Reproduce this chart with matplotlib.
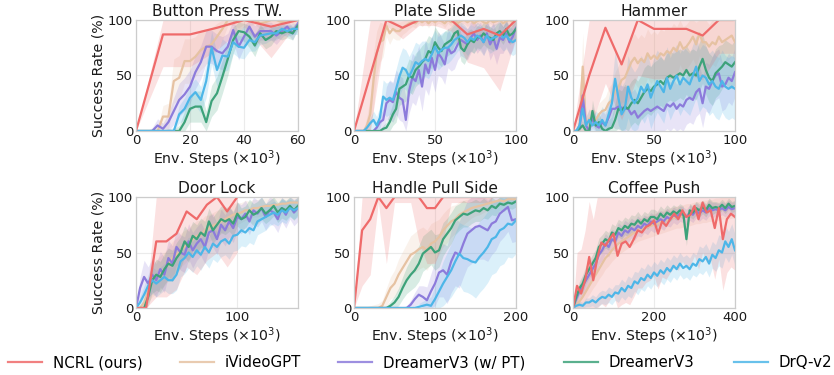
import matplotlib
matplotlib.use("Agg")
import matplotlib.pyplot as plt
import numpy as np
from matplotlib.lines import Line2D

# ---------------------------------------------------------------- data
methods = ["NCRL (ours)", "iVideoGPT", "DreamerV3 (w/ PT)", "DreamerV3", "DrQ-v2"]
colors = {
    "NCRL (ours)": "#EF6A6A",
    "iVideoGPT": "#E6C2A2",
    "DreamerV3 (w/ PT)": "#8C7BDB",
    "DreamerV3": "#3DA27A",
    "DrQ-v2": "#4DB6E8",
}

# Button Press TW. (x in 1e3 env steps)
bp_red_x = [0, 10, 20, 30, 40, 50, 60]
bp_x = [0, 2, 4, 6, 8, 10, 12, 14, 16, 18, 20, 22, 24, 26, 28, 30, 32, 34, 36, 38,
        40, 42, 44, 46, 48, 50, 52, 54, 56, 58, 60]
bp_red = [0, 87, 87, 93, 100, 94, 100]
bp_red_sd = [0, 29, 29, 20, 6, 28, 2]
bp_tan = [0, 0, 0, 0, 0, 13, 13, 45, 48, 63, 63, 67, 73, 76, 78, 85, 92, 100, 100, 98,
          100, 99, 100, 97, 98, 100, 100, 98, 100, 100, 100]
bp_tan_sd = [0, 0, 0, 0, 2, 10, 12, 20, 20, 20, 20, 18, 18, 16, 15, 12, 10, 5, 5, 5,
             4, 4, 4, 5, 5, 4, 3, 4, 3, 3, 2]
bp_pur = [0, 0, 0, 0, 5, 2, 8, 18, 28, 33, 40, 53, 62, 76, 76, 72, 70, 76, 91, 76,
          85, 94, 85, 90, 90, 90, 86, 90, 94, 88, 97]
bp_pur_sd = [0, 0, 0, 3, 6, 5, 8, 12, 15, 15, 15, 15, 15, 15, 15, 15, 15, 12, 10, 12,
             10, 8, 10, 8, 8, 8, 8, 6, 6, 6, 4]
bp_grn = [0, 0, 0, 0, 0, 0, 0, 0, 0, 8, 20, 22, 22, 8, 27, 34, 49, 65, 82, 90,
          89, 85, 77, 88, 82, 85, 90, 88, 90, 88, 95]
bp_grn_sd = [0, 0, 0, 0, 0, 0, 0, 2, 5, 10, 12, 14, 14, 10, 14, 15, 15, 15, 12, 8,
             8, 10, 10, 8, 8, 8, 6, 6, 6, 6, 4]
bp_blu = [0, 0, 0, 0, 0, 0, 0, 0, 15, 20, 30, 35, 28, 45, 75, 55, 68, 67, 80, 76,
          75, 82, 80, 86, 87, 88, 88, 92, 90, 92, 92]
bp_blu_sd = [0, 0, 0, 0, 0, 0, 2, 3, 8, 10, 12, 12, 12, 15, 15, 15, 15, 12, 10, 10,
             10, 10, 8, 8, 8, 6, 6, 5, 5, 5, 5]

# Plate Slide
ps_red_x = [0, 10, 20, 30, 40, 50, 60, 70, 80, 90, 100]
ps_x = [0, 2, 4, 6, 8, 10, 12, 14, 16, 18, 20, 22, 24, 26, 28, 30, 32, 34, 36, 38,
        40, 42, 44, 46, 48, 50, 52, 54, 56, 58, 60, 62, 64, 66, 68, 70, 72, 74, 76, 78,
        80, 82, 84, 86, 88, 90, 92, 94, 96, 98, 100]
ps_red = [0, 50, 100, 93, 100, 100, 100, 87, 92, 86, 100]
ps_red_sd = [0, 50, 5, 10, 5, 5, 10, 25, 35, 50, 15]
ps_tan = [0, 0, 0, 0, 5, 15, 45, 70, 80, 82, 95, 88, 92, 90, 90, 93, 95, 97, 98, 97,
          100, 98, 100, 97, 100, 98, 100, 99, 97, 100, 98, 100, 97, 99, 100, 98, 100, 97, 99, 100,
          98, 97, 100, 98, 99, 100, 97, 99, 100, 98, 100]
ps_tan_sd = [0, 0, 0, 2, 8, 15, 25, 20, 18, 15, 10, 10, 8, 8, 8, 6, 6, 5, 4, 4,
             3, 4, 3, 4, 3, 4, 3, 3, 4, 3, 4, 3, 4, 3, 3, 4, 3, 4, 3, 3,
             4, 4, 3, 4, 3, 3, 4, 3, 3, 4, 3]
ps_pur = [0, 0, 0, 0, 0, 0, 0, 3, 8, 10, 25, 28, 26, 35, 30, 28, 10, 36, 48, 45,
          55, 40, 60, 52, 66, 55, 70, 66, 60, 75, 70, 72, 78, 82, 80, 78, 84, 88, 82, 86,
          80, 88, 78, 84, 74, 84, 82, 88, 80, 85, 93]
ps_pur_sd = [0, 0, 0, 0, 0, 0, 2, 4, 6, 10, 15, 18, 18, 20, 20, 20, 20, 20, 22, 22,
             22, 22, 22, 20, 20, 20, 20, 18, 18, 18, 16, 16, 14, 14, 14, 14, 14, 12, 12, 12,
             12, 12, 14, 14, 14, 14, 12, 12, 12, 12, 10]
ps_grn = [0, 0, 0, 0, 0, 0, 0, 0, 0, 2, 3, 8, 15, 20, 38, 40, 42, 50, 48, 55,
          58, 62, 65, 72, 70, 80, 75, 72, 78, 80, 82, 88, 90, 75, 72, 78, 82, 80, 85, 84,
          88, 85, 84, 82, 88, 90, 86, 92, 86, 88, 92]
ps_grn_sd = [0, 0, 0, 0, 0, 0, 0, 0, 1, 3, 5, 8, 10, 12, 15, 15, 15, 15, 15, 15,
             15, 15, 15, 14, 14, 14, 14, 14, 12, 12, 12, 10, 10, 12, 12, 12, 10, 10, 10, 10,
             10, 10, 10, 10, 8, 8, 8, 8, 8, 8, 8]
ps_blu = [0, 0, 0, 0, 3, 7, 10, 5, 12, 31, 28, 30, 28, 38, 49, 57, 55, 49, 55, 62,
          60, 63, 65, 63, 69, 76, 70, 73, 75, 75, 78, 82, 84, 86, 84, 80, 84, 82, 86, 84,
          80, 86, 82, 84, 85, 88, 84, 86, 82, 80, 82]
ps_blu_sd = [0, 0, 0, 0, 3, 5, 8, 8, 10, 15, 15, 15, 15, 18, 18, 18, 18, 18, 18, 18,
             18, 18, 16, 16, 16, 15, 15, 15, 15, 14, 14, 14, 12, 12, 12, 12, 12, 12, 12, 12,
             12, 12, 12, 12, 12, 12, 12, 12, 12, 12, 12]

# Hammer
hm_red_x = [0, 10, 20, 30, 40, 50, 60, 70, 80, 90, 100]
hm_x = ps_x
hm_red = [0, 50, 93, 60, 100, 92, 92, 92, 86, 100, 100]
hm_red_sd = [0, 50, 50, 50, 50, 45, 45, 40, 40, 30, 30]
hm_tan = [0, 0, 5, 58, 5, 11, 12, 10, 15, 18, 19, 25, 28, 35, 39, 46, 48, 55, 62, 66,
          61, 65, 62, 70, 65, 68, 65, 70, 68, 72, 70, 75, 72, 80, 74, 76, 80, 85, 78, 88,
          80, 80, 76, 80, 78, 85, 80, 82, 84, 86, 80]
hm_tan_sd = [0, 0, 5, 30, 8, 8, 8, 8, 10, 10, 12, 14, 15, 18, 20, 20, 22, 22, 22, 22,
             22, 22, 22, 22, 22, 22, 22, 22, 22, 22, 22, 22, 22, 20, 20, 20, 20, 20, 20, 20,
             20, 20, 20, 20, 20, 20, 20, 20, 20, 18, 18]
hm_pur = [0, 0, 2, 32, 5, 0, 12, 5, 3, 8, 5, 12, 20, 20, 22, 21, 20, 20, 15, 18,
          12, 15, 18, 20, 18, 20, 22, 20, 18, 24, 22, 25, 20, 24, 22, 28, 30, 28, 35, 38,
          25, 40, 38, 45, 50, 52, 40, 42, 48, 45, 53]
hm_pur_sd = [0, 0, 3, 20, 8, 5, 10, 8, 8, 10, 10, 12, 15, 18, 20, 20, 20, 20, 20, 20,
             20, 20, 20, 22, 22, 22, 22, 22, 22, 22, 22, 22, 22, 22, 22, 22, 22, 22, 22, 22,
             22, 22, 22, 22, 22, 22, 22, 22, 22, 22, 22]
hm_grn = [0, 0, 2, 5, 0, 0, 18, 5, 8, 2, 0, 2, 3, 10, 20, 18, 22, 20, 25, 28,
          25, 30, 35, 38, 36, 40, 42, 45, 42, 48, 50, 48, 50, 52, 50, 55, 50, 52, 50, 58,
          65, 55, 48, 45, 52, 55, 58, 62, 60, 58, 62]
hm_grn_sd = [0, 0, 3, 5, 2, 2, 10, 8, 8, 6, 5, 8, 10, 15, 18, 18, 20, 20, 20, 20,
             20, 20, 22, 22, 22, 22, 22, 22, 22, 22, 22, 22, 22, 22, 22, 22, 22, 22, 22, 22,
             22, 22, 22, 22, 22, 22, 20, 20, 20, 20, 20]
hm_blu = [0, 0, 5, 20, 5, 10, 5, 8, 5, 10, 5, 15, 25, 47, 30, 15, 20, 40, 30, 25,
          30, 40, 35, 42, 30, 38, 45, 40, 35, 48, 38, 45, 50, 42, 48, 45, 42, 50, 58, 45,
          50, 48, 42, 45, 40, 38, 45, 40, 38, 40, 38]
hm_blu_sd = [0, 0, 5, 15, 8, 10, 8, 10, 10, 12, 12, 15, 18, 25, 25, 25, 25, 28, 28, 28,
             28, 28, 28, 28, 28, 28, 28, 28, 28, 28, 28, 28, 28, 28, 28, 28, 28, 28, 28, 28,
             28, 28, 28, 28, 28, 28, 28, 28, 28, 28, 28]

# Door Lock
dl_red_x = [0, 10, 20, 30, 40, 50, 60, 70, 80, 90, 100]
dl_x = [0, 4, 8, 12, 16, 20, 24, 28, 32, 36, 40, 44, 48, 52, 56, 60, 64, 68, 72, 76,
        80, 84, 88, 92, 96, 100, 104, 108, 112, 116, 120, 124, 128, 132, 136, 140, 144, 148, 152, 156,
        160]
dl_red = [0, 0, 60, 60, 67, 87, 80, 93, 100, 87, 100]
dl_red_sd = [0, 5, 50, 50, 50, 50, 50, 50, 50, 50, 50]
dl_tan = [0, 0, 5, 15, 25, 28, 32, 35, 40, 45, 48, 52, 55, 58, 62, 65, 66, 70, 72, 74,
          76, 78, 80, 82, 84, 85, 86, 88, 88, 90, 90, 91, 92, 92, 93, 93, 94, 94, 95, 95,
          95]
dl_tan_sd = [0, 2, 6, 10, 15, 15, 15, 15, 15, 15, 15, 15, 15, 14, 14, 14, 13, 13, 12, 12,
             12, 11, 11, 10, 10, 10, 9, 9, 8, 8, 8, 8, 7, 7, 7, 6, 6, 6, 6, 5,
             5]
dl_pur = [0, 18, 28, 22, 30, 25, 35, 30, 45, 40, 55, 50, 48, 60, 52, 58, 62, 55, 68, 70,
          62, 75, 70, 78, 72, 82, 80, 85, 78, 88, 85, 90, 82, 88, 86, 80, 90, 84, 92, 86,
          90]
dl_pur_sd = [0, 10, 15, 15, 15, 15, 16, 16, 16, 16, 16, 16, 16, 16, 16, 15, 15, 15, 15, 15,
             14, 14, 14, 14, 13, 13, 13, 12, 12, 12, 12, 12, 12, 12, 12, 12, 12, 12, 12, 12,
             12]
dl_grn = [0, 0, 0, 10, 25, 30, 28, 35, 40, 38, 45, 50, 60, 55, 65, 62, 68, 65, 78, 70,
          75, 80, 78, 80, 76, 85, 80, 82, 88, 84, 86, 90, 85, 88, 92, 86, 90, 88, 92, 88,
          92]
dl_grn_sd = [0, 0, 2, 8, 12, 14, 14, 14, 14, 14, 14, 14, 14, 14, 13, 13, 13, 13, 12, 12,
             12, 12, 12, 11, 11, 11, 10, 10, 10, 10, 10, 10, 9, 9, 9, 9, 9, 9, 9, 9,
             8]
dl_blu = [0, 5, 12, 20, 25, 22, 25, 28, 25, 25, 30, 42, 45, 50, 46, 52, 48, 55, 50, 58,
          55, 60, 62, 58, 65, 66, 70, 68, 72, 70, 78, 80, 82, 84, 86, 84, 88, 86, 90, 88,
          90]
dl_blu_sd = [0, 5, 8, 10, 12, 12, 12, 12, 12, 12, 14, 14, 14, 14, 14, 14, 14, 14, 14, 14,
             14, 14, 14, 14, 14, 14, 14, 13, 13, 13, 12, 12, 12, 10, 10, 10, 10, 10, 8, 8,
             8]

# Handle Pull Side
hp_red_x = [0, 10, 20, 30, 40, 50, 60, 70, 80, 90, 100, 110, 120, 130, 140, 150, 160, 170]
hp_x = [0, 5, 10, 15, 20, 25, 30, 35, 40, 45, 50, 55, 60, 65, 70, 75, 80, 85, 90, 95,
        100, 105, 110, 115, 120, 125, 130, 135, 140, 145, 150, 155, 160, 165, 170, 175, 180, 185, 190, 195,
        200]
hp_red = [0, 70, 80, 100, 90, 100, 100, 100, 100, 90, 90, 100, 100, 100, 100, 100, 100, 100]
hp_red_sd = [0, 50, 50, 5, 50, 5, 5, 5, 40, 50, 50, 40, 5, 5, 5, 5, 5, 5]
hp_tan = [0, 0, 0, 0, 0, 0, 0, 2, 10, 18, 22, 30, 36, 42, 48, 50, 53, 55, 52, 58,
          60, 64, 70, 74, 78, 80, 84, 86, 88, 90, 91, 92, 93, 94, 95, 96, 97, 96, 98, 98,
          98]
hp_tan_sd = [0, 0, 0, 1, 2, 3, 4, 5, 8, 10, 12, 14, 15, 16, 17, 18, 18, 18, 18, 18,
             18, 16, 15, 15, 14, 13, 12, 11, 10, 9, 8, 8, 7, 6, 6, 5, 5, 4, 4, 3,
             3]
hp_pur = [0, 0, 0, 0, 0, 0, 0, 0, 0, 0, 0, 0, 0, 0, 3, 8, 12, 10, 7, 15,
          22, 32, 34, 30, 42, 50, 48, 58, 67, 70, 73, 74, 72, 70, 76, 78, 85, 88, 91, 79,
          80]
hp_pur_sd = [0, 0, 0, 0, 0, 0, 0, 0, 0, 0, 0, 0, 1, 2, 4, 6, 8, 10, 12, 16,
             20, 22, 24, 26, 28, 30, 30, 30, 30, 30, 30, 30, 28, 28, 28, 26, 25, 24, 22, 20,
             20]
hp_grn = [0, 0, 0, 0, 0, 0, 0, 0, 0, 2, 5, 10, 18, 25, 30, 34, 40, 49, 52, 55,
          50, 52, 62, 67, 72, 79, 82, 85, 84, 86, 88, 87, 90, 88, 92, 90, 94, 93, 95, 94,
          96]
hp_grn_sd = [0, 0, 0, 0, 0, 0, 0, 1, 2, 4, 6, 8, 10, 12, 14, 15, 16, 16, 16, 16,
             16, 15, 15, 14, 14, 13, 12, 12, 11, 10, 10, 9, 9, 8, 8, 7, 6, 6, 5, 5,
             5]
hp_blu = [0, 0, 0, 0, 0, 0, 0, 0, 0, 0, 0, 0, 0, 0, 0, 0, 1, 2, 3, 2,
          8, 15, 22, 28, 34, 42, 49, 45, 44, 42, 41, 46, 50, 55, 62, 64, 70, 72, 76, 75,
          79]
hp_blu_sd = [0, 0, 0, 0, 0, 0, 0, 0, 0, 0, 0, 0, 0, 1, 1, 2, 3, 4, 5, 8,
             12, 16, 20, 22, 24, 26, 28, 30, 30, 30, 32, 32, 32, 32, 32, 32, 32, 32, 30, 30,
             30]

# Coffee Push
cp_red_x = [0, 10, 20, 30, 40, 50, 60, 70, 80, 90, 100, 110, 120, 130, 140, 150, 160, 170, 180, 190,
            200, 210, 220, 230, 240, 250, 260, 270, 280, 290, 300, 310, 320, 330, 340, 350, 360, 370, 380, 390,
            400]
cp_x = [0, 8, 16, 24, 32, 40, 48, 56, 64, 72, 80, 88, 96, 104, 112, 120, 128, 136, 144, 152,
        160, 168, 176, 184, 192, 200, 208, 216, 224, 232, 240, 248, 256, 264, 272, 280, 288, 296, 304, 312,
        320, 328, 336, 344, 352, 360, 368, 376, 384, 392, 400]
cp_red = [0, 20, 13, 25, 46, 25, 45, 59, 56, 62, 67, 47, 58, 60, 55, 62, 70, 68, 73, 75,
          79, 67, 78, 74, 80, 85, 80, 88, 82, 84, 92, 80, 95, 86, 88, 72, 90, 62, 80, 85,
          82]
cp_red_sd = [0, 30, 40, 45, 50, 55, 55, 55, 55, 55, 55, 55, 55, 55, 52, 52, 52, 50, 50, 50,
             50, 50, 50, 48, 48, 48, 46, 46, 46, 45, 45, 45, 45, 45, 45, 46, 46, 46, 48, 48,
             48]
cp_tan = [0, 3, 6, 10, 15, 20, 25, 30, 35, 40, 45, 48, 52, 55, 58, 60, 62, 64, 66, 68,
          70, 71, 72, 73, 74, 75, 76, 77, 78, 79, 80, 81, 82, 82, 83, 84, 84, 85, 86, 86,
          87, 87, 88, 88, 89, 89, 90, 90, 90, 91, 91]
cp_tan_sd = [0, 3, 5, 6, 7, 8, 8, 9, 9, 10, 10, 10, 10, 10, 10, 10, 10, 10, 10, 10,
             10, 10, 10, 10, 10, 10, 10, 10, 10, 10, 10, 10, 10, 10, 10, 10, 10, 10, 10, 10,
             10, 10, 10, 10, 10, 10, 10, 10, 10, 10, 10]
cp_pur = [0, 8, 15, 20, 25, 30, 35, 40, 48, 52, 58, 55, 62, 60, 68, 65, 70, 68, 72, 70,
          74, 72, 76, 74, 78, 76, 78, 80, 78, 82, 80, 84, 82, 85, 84, 82, 86, 84, 88, 85,
          88, 86, 90, 88, 89, 88, 90, 88, 91, 89, 90]
cp_pur_sd = [0, 5, 6, 8, 9, 9, 9, 9, 9, 9, 9, 9, 9, 9, 9, 9, 9, 9, 9, 9,
             9, 8, 8, 8, 8, 8, 8, 8, 8, 8, 7, 7, 7, 7, 7, 7, 7, 7, 7, 7,
             7, 7, 7, 7, 6, 6, 6, 6, 6, 6, 6]
cp_grn = [0, 10, 18, 22, 30, 35, 40, 45, 55, 58, 62, 60, 68, 66, 72, 70, 74, 72, 76, 75,
          79, 76, 80, 78, 82, 82, 80, 85, 82, 86, 84, 87, 85, 88, 86, 62, 88, 86, 90, 88,
          91, 88, 93, 90, 91, 90, 93, 90, 94, 91, 92]
cp_grn_sd = [0, 5, 6, 8, 8, 8, 8, 8, 8, 8, 8, 8, 8, 8, 8, 8, 8, 8, 8, 8,
             8, 7, 7, 7, 7, 7, 7, 7, 7, 7, 6, 6, 6, 6, 6, 6, 6, 6, 6, 6,
             6, 6, 6, 6, 5, 5, 5, 5, 5, 5, 5]
cp_blu = [0, 2, 3, 2, 5, 5, 7, 5, 8, 10, 9, 12, 10, 14, 13, 18, 15, 20, 18, 24,
          22, 27, 25, 30, 27, 32, 29, 34, 31, 36, 33, 38, 35, 40, 36, 38, 35, 40, 38, 44,
          42, 46, 40, 48, 45, 52, 50, 60, 55, 62, 52]
cp_blu_sd = [0, 2, 3, 3, 4, 4, 5, 5, 6, 6, 6, 7, 7, 7, 8, 8, 8, 9, 9, 9,
             10, 10, 10, 10, 10, 10, 10, 10, 10, 10, 10, 10, 10, 10, 10, 10, 10, 10, 10, 12,
             12, 12, 12, 12, 12, 14, 14, 14, 14, 14, 14]

panels = [
    ("Button Press TW.", (0, 60), [0, 20, 40, 60], {
        "NCRL (ours)": (bp_red_x, bp_red, bp_red_sd),
        "iVideoGPT": (bp_x, bp_tan, bp_tan_sd),
        "DreamerV3 (w/ PT)": (bp_x, bp_pur, bp_pur_sd),
        "DreamerV3": (bp_x, bp_grn, bp_grn_sd),
        "DrQ-v2": (bp_x, bp_blu, bp_blu_sd)}),
    ("Plate Slide", (0, 100), [0, 50, 100], {
        "NCRL (ours)": (ps_red_x, ps_red, ps_red_sd),
        "iVideoGPT": (ps_x, ps_tan, ps_tan_sd),
        "DreamerV3 (w/ PT)": (ps_x, ps_pur, ps_pur_sd),
        "DreamerV3": (ps_x, ps_grn, ps_grn_sd),
        "DrQ-v2": (ps_x, ps_blu, ps_blu_sd)}),
    ("Hammer", (0, 100), [0, 50, 100], {
        "NCRL (ours)": (hm_red_x, hm_red, hm_red_sd),
        "iVideoGPT": (hm_x, hm_tan, hm_tan_sd),
        "DreamerV3 (w/ PT)": (hm_x, hm_pur, hm_pur_sd),
        "DreamerV3": (hm_x, hm_grn, hm_grn_sd),
        "DrQ-v2": (hm_x, hm_blu, hm_blu_sd)}),
    ("Door Lock", (0, 160), [0, 100], {
        "NCRL (ours)": (dl_red_x, dl_red, dl_red_sd),
        "iVideoGPT": (dl_x, dl_tan, dl_tan_sd),
        "DreamerV3 (w/ PT)": (dl_x, dl_pur, dl_pur_sd),
        "DreamerV3": (dl_x, dl_grn, dl_grn_sd),
        "DrQ-v2": (dl_x, dl_blu, dl_blu_sd)}),
    ("Handle Pull Side", (0, 200), [0, 100, 200], {
        "NCRL (ours)": (hp_red_x, hp_red, hp_red_sd),
        "iVideoGPT": (hp_x, hp_tan, hp_tan_sd),
        "DreamerV3 (w/ PT)": (hp_x, hp_pur, hp_pur_sd),
        "DreamerV3": (hp_x, hp_grn, hp_grn_sd),
        "DrQ-v2": (hp_x, hp_blu, hp_blu_sd)}),
    ("Coffee Push", (0, 400), [0, 200, 400], {
        "NCRL (ours)": (cp_red_x, cp_red, cp_red_sd),
        "iVideoGPT": (cp_x, cp_tan, cp_tan_sd),
        "DreamerV3 (w/ PT)": (cp_x, cp_pur, cp_pur_sd),
        "DreamerV3": (cp_x, cp_grn, cp_grn_sd),
        "DrQ-v2": (cp_x, cp_blu, cp_blu_sd)}),
]

# order the curves are drawn in (NCRL on top)
draw_order = ["iVideoGPT", "DreamerV3 (w/ PT)", "DreamerV3", "DrQ-v2", "NCRL (ours)"]

# ---------------------------------------------------------------- figure
fig = plt.figure(figsize=(8.34, 3.75), dpi=100)
W, H = 834, 375
col_left = [136, 354, 573]
row_top = [20, 197]
ax_w, ax_h = 162, 111

for i, (title, xlim, xticks, series) in enumerate(panels):
    r, c = divmod(i, 3)
    ax = fig.add_axes([col_left[c] / W, 1 - (row_top[r] + ax_h) / H, ax_w / W, ax_h / H])
    for name in draw_order:
        x, m, sd = series[name]
        x, m, sd = np.asarray(x), np.asarray(m, float), np.asarray(sd, float)
        lo = np.clip(m - sd, 0, 100)
        hi = np.clip(m + sd, 0, 100)
        ax.fill_between(x, lo, hi, color=colors[name], alpha=0.2, linewidth=0)
        ax.plot(x, m, color=colors[name], linewidth=1.6)
    ax.set_xlim(*xlim)
    ax.set_ylim(0, 100)
    ax.set_xticks(xticks)
    ax.set_yticks([0, 50, 100])
    ax.set_title(title, fontsize=11.2, color="#1a1a1a", pad=3)
    ax.set_xlabel(r"Env. Steps ($\times 10^3$)", fontsize=10.2, color="#1a1a1a", labelpad=1)
    if c == 0:
        ax.set_ylabel("Success Rate (%)", fontsize=10.2, color="#1a1a1a", labelpad=2)
    ax.tick_params(length=0, labelsize=9.5, colors="#1a1a1a", pad=2)
    ax.grid(True, color="#ebebeb", linewidth=0.8)
    ax.set_axisbelow(True)
    for s in ax.spines.values():
        s.set_color("#cccccc")
        s.set_linewidth(0.9)

# legend: one single-entry legend per method, bottoms aligned so the
# baselines line up
legend_left = [8, 180, 338, 564, 734]
for name, lx in zip(methods, legend_left):
    h = Line2D([0], [0], color=colors[name], linewidth=1.6, alpha=0.85)
    fig.legend([h], [name], loc="lower left", bbox_to_anchor=(lx / W, 1 - 370 / H),
               frameon=False, fontsize=10.8, handlelength=2.25, handletextpad=0.72,
               borderpad=0, borderaxespad=0)

plt.savefig("out.png", dpi=100)
plt.close()
